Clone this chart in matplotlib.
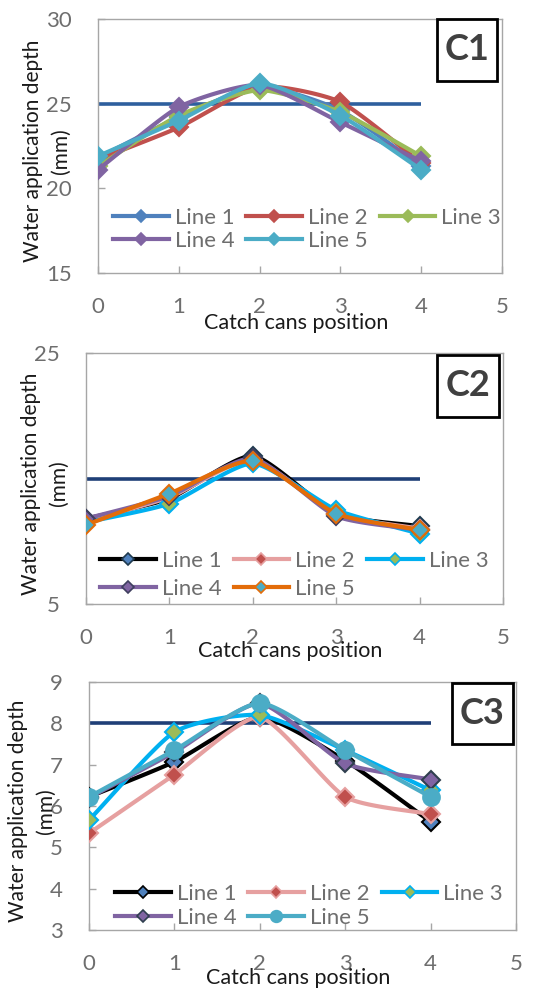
import numpy as np
import matplotlib
matplotlib.use("Agg")
import matplotlib.pyplot as plt
from matplotlib.patches import Rectangle

plt.rcParams['font.family'] = ['Lato', 'DejaVu Sans']

W, H = 551, 989

positions = [0, 1, 2, 3, 4]
series_names = ["Line 1", "Line 2", "Line 3", "Line 4", "Line 5"]

# Panel C1 (target 25 mm)
c1_target = 25
c1_line1 = [21.8, 24.2, 26.0, 24.6, 21.3]
c1_line2 = [21.7, 23.6, 26.0, 25.1, 21.5]
c1_line3 = [21.3, 24.3, 25.8, 24.5, 21.9]
c1_line4 = [21.1, 24.8, 26.1, 23.9, 21.6]
c1_line5 = [21.9, 24.0, 26.2, 24.3, 21.1]

# Panel C2 (target 15 mm)
c2_target = 15
c2_line1 = [11.8, 13.4, 16.8, 12.2, 11.2]
c2_line2 = [11.6, 13.5, 16.5, 12.2, 11.0]
c2_line3 = [11.5, 13.0, 16.2, 12.5, 10.6]
c2_line4 = [11.8, 13.6, 16.6, 12.0, 10.9]
c2_line5 = [11.3, 13.8, 16.4, 12.2, 10.9]

# Panel C3 (target 8 mm)
c3_target = 8
c3_line1 = [6.22, 7.07, 8.15, 7.10, 5.62]
c3_line2 = [5.34, 6.76, 8.15, 6.22, 5.80]
c3_line3 = [5.66, 7.79, 8.20, 7.35, 6.38]
c3_line4 = [6.20, 7.30, 8.48, 7.03, 6.64]
c3_line5 = [6.22, 7.35, 8.49, 7.35, 6.22]


def smooth(x, y, n=30):
    """Catmull-Rom style smoothing (Excel 'smoothed line' look)."""
    x = np.asarray(x, float)
    y = np.asarray(y, float)
    P = np.column_stack([x, y])
    P = np.vstack([P[0] - (P[1] - P[0]), P, P[-1] + (P[-1] - P[-2])])
    out = []
    t = np.linspace(0, 1, n)
    for i in range(1, len(P) - 2):
        p0, p1, p2, p3 = P[i - 1], P[i], P[i + 1], P[i + 2]
        m1 = (p2 - p0) / 2 * 0.6
        m2 = (p3 - p1) / 2 * 0.6
        h00 = 2 * t**3 - 3 * t**2 + 1
        h10 = t**3 - 2 * t**2 + t
        h01 = -2 * t**3 + 3 * t**2
        h11 = t**3 - t**2
        seg = (h00[:, None] * p1 + h10[:, None] * m1 + h01[:, None] * p2 + h11[:, None] * m2)
        out.append(seg if i == 1 else seg[1:])
    S = np.vstack(out)
    return S[:, 0], S[:, 1]


def fb(l, t, r, b):
    return [l / W, 1 - b / H, (r - l) / W, (b - t) / H]


fig = plt.figure(figsize=(W / 100, H / 100), dpi=100)

TICK_COL = '#6e6e6e'
SPINE_COL = '#a6a6a6'

panels = [
    dict(name="C1", box=(98, 19, 502, 273), ylim=(15, 30), yticks=[15, 20, 25, 30],
         target=c1_target,
         data=[c1_line1, c1_line2, c1_line3, c1_line4, c1_line5],
         lcol=['#4f81bd', '#c0504d', '#9bbb59', '#8064a2', '#4bacc6'],
         mface=['#4f81bd', '#c0504d', '#9bbb59', '#8064a2', '#4bacc6'],
         medge=['#4f81bd', '#c0504d', '#9bbb59', '#8064a2', '#4bacc6'],
         marker=['D', 'D', 'D', 'D', 'D'], msize=[9, 9, 9, 9, 9],
         tcol='#2e5f9e', lspace=0.12,
         leg=(0.037, 0.171), cbox=(437, 19, 497, 81), ylab_x=47, xlab_y=323),
    dict(name="C2", box=(86, 353, 503, 604), ylim=(5, 25), yticks=[5, 25],
         target=c2_target,
         data=[c2_line1, c2_line2, c2_line3, c2_line4, c2_line5],
         lcol=['#000000', '#e6a0a0', '#00b0f0', '#8064a2', '#e36c09'],
         mface=['#4f81bd', '#c0504d', '#9bbb59', '#8064a2', '#4bacc6'],
         medge=['#1f3a4f', '#e6a0a0', '#00b0f0', '#3f3f5f', '#e36c09'],
         marker=['D', 'D', 'D', 'D', 'D'], msize=[9, 9, 9, 9, 9],
         tcol='#1f3f77', lspace=0.35,
         leg=(0.034, 0.116), cbox=(437, 355, 499, 417), ylab_x=45, xlab_y=651),
    dict(name="C3", box=(89, 682, 516, 930), ylim=(3, 9), yticks=[3, 4, 5, 6, 7, 8, 9],
         target=c3_target,
         data=[c3_line1, c3_line2, c3_line3, c3_line4, c3_line5],
         lcol=['#000000', '#e6a0a0', '#00b0f0', '#8064a2', '#4bacc6'],
         mface=['#4f81bd', '#c0504d', '#9bbb59', '#8064a2', '#4bacc6'],
         medge=['#000000', '#e6a0a0', '#00b0f0', '#2f3f4f', '#4bacc6'],
         marker=['D', 'D', 'D', 'D', 'o'], msize=[9, 9, 9, 9, 12],
         tcol='#1f3f77', lspace=0.17,
         leg=(0.061, 0.097), cbox=(452, 683, 513, 744), ylab_x=32, xlab_y=978),
]

for p in panels:
    l, t, r, b = p['box']
    ax = fig.add_axes(fb(l, t, r, b))
    ax.set_xlim(0, 5)
    ax.set_ylim(*p['ylim'])
    ax.set_xticks([0, 1, 2, 3, 4, 5])
    ax.set_yticks(p['yticks'])
    for s in ax.spines.values():
        s.set_color(SPINE_COL)
        s.set_linewidth(1.0)
    ax.tick_params(axis='both', direction='in', length=5, width=1, color=SPINE_COL,
                   labelcolor=TICK_COL, labelsize=16)
    ax.tick_params(axis='x', pad=17)
    ax.tick_params(axis='y', pad=19)
    ax.tick_params(top=False, right=False)

    # target line
    ax.plot([positions[0], positions[-1]], [p['target']] * 2, color=p['tcol'], lw=2.6,
            zorder=2, solid_capstyle='butt')

    handles = []
    for i, yv in enumerate(p['data']):
        sx, sy = smooth(positions, yv)
        ax.plot(sx, sy, color=p['lcol'][i], lw=3.0, zorder=3 + i, solid_capstyle='round')
        ax.plot(positions, yv, linestyle='none', marker=p['marker'][i], ms=p['msize'][i],
                mfc=p['mface'][i], mec=p['medge'][i], mew=1.5, zorder=3 + i)
        h, = ax.plot([], [], color=p['lcol'][i], lw=3.0, marker=p['marker'][i],
                     ms=p['msize'][i] * 0.7, mfc=p['mface'][i], mec=p['medge'][i], mew=1.2,
                     label=series_names[i])
        handles.append(h)

    # row-wise order for a 3-column legend
    order = [0, 3, 1, 4, 2]
    leg = ax.legend([handles[k] for k in order], [series_names[k] for k in order],
                    ncol=3, loc='center left', bbox_to_anchor=p['leg'], frameon=False,
                    prop=dict(size=16), handlelength=2.5,
                    handletextpad=0.27, columnspacing=0.55,
                    labelspacing=p['lspace'], borderpad=0, borderaxespad=0, numpoints=1)
    for txt in leg.get_texts():
        txt.set_color(TICK_COL)

    # panel label box
    bl, bt, br, bb = p['cbox']
    fig.patches.append(Rectangle((bl / W, 1 - bb / H), (br - bl) / W, (bb - bt) / H,
                                 transform=fig.transFigure, facecolor='white',
                                 edgecolor='black', lw=2.0, zorder=20))
    fig.text((bl + br) / 2 / W, 1 - (bt + bb) / 2 / H, p['name'], ha='center', va='center',
             fontsize=26, fontweight='bold', color='#404040', zorder=21)

    # axis labels
    fig.text(p['ylab_x'] / W, 1 - ((t + b) / 2 + 5) / H, "Water application depth\n(mm)",
             rotation=90, ha='center', va='center', multialignment='center',
             fontsize=15, color='#1a1a1a', linespacing=1.5)
    fig.text(((l + r) / 2 - 4) / W, 1 - p['xlab_y'] / H, "Catch cans position",
             ha='center', va='center', fontsize=15.5, color='#1a1a1a')

fig.savefig("out.png", dpi=100)
